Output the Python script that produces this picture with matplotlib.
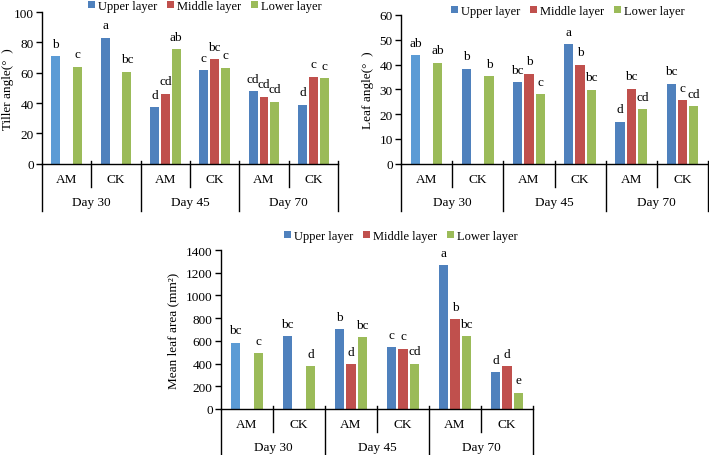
import numpy as np
import matplotlib
matplotlib.use("Agg")
import matplotlib.pyplot as plt
from matplotlib.patches import Patch

plt.rcParams['font.family'] = ['Liberation Serif', 'DejaVu Serif']
plt.rcParams['font.size'] = 9

W, H = 709, 456

categories = ['AM', 'CK', 'AM', 'CK', 'AM', 'CK']
days = ['Day 30', 'Day 45', 'Day 70']
series_names = ['Upper layer', 'Middle layer', 'Lower layer']

nan = np.nan
tiller_upper = [71.0, 83.1, 37.4, 61.8, 47.7, 38.9]
tiller_middle = [nan, nan, 46.2, 68.8, 44.2, 57.4]
tiller_lower = [64.0, 60.7, 75.4, 63.3, 40.9, 56.5]
tiller_letters = [['b', 'a', 'd', 'c', 'cd', 'd'],
                  ['', '', 'cd', 'bc', 'cd', 'c'],
                  ['c', 'bc', 'ab', 'c', 'cd', 'c']]

leaf_upper = [43.8, 38.4, 33.0, 48.2, 17.0, 32.3]
leaf_middle = [nan, nan, 36.3, 40.0, 30.3, 25.7]
leaf_lower = [40.8, 35.2, 28.2, 29.9, 22.0, 23.2]
leaf_letters = [['ab', 'b', 'bc', 'a', 'd', 'bc'],
                ['', '', 'b', 'b', 'bc', 'c'],
                ['ab', 'b', 'c', 'bc', 'cd', 'cd']]

area_upper = [585, 641, 703, 547, 1265, 326]
area_middle = [nan, nan, 397, 532, 791, 379]
area_lower = [491, 379, 635, 400, 644, 144]
area_letters = [['bc', 'bc', 'b', 'c', 'a', 'd'],
                ['', '', 'd', 'c', 'b', 'd'],
                ['c', 'd', 'bc', 'cd', 'bc', 'e']]

colors = ['#4F81BD', '#C0504D', '#9BBB59']
light_blue = '#5B9BD5'

fig = plt.figure(figsize=(W / 100, H / 100), dpi=100)


def add_ax(left, right, top, bottom):
    return fig.add_axes([left / W, 1 - bottom / H, (right - left) / W, (bottom - top) / H])


def panel(ax, upper, middle, lower, letters, ymax, ystep, ylabel, ylab_x, legend_xy):
    x = np.arange(len(categories))
    off = 0.22
    bw = 0.18
    for k, vals in enumerate([upper, middle, lower]):
        vals = np.array(vals, dtype=float)
        cols = [colors[k]] * len(vals)
        if k == 0:
            cols[0] = light_blue
        for i, v in enumerate(vals):
            if np.isnan(v):
                continue
            xi = x[i] + (k - 1) * off
            ax.bar(xi, v, width=bw, color=cols[i], edgecolor='none', zorder=2)
            if letters[k][i]:
                ax.annotate(letters[k][i], (xi, v), xytext=(0, 4.5), textcoords='offset points',
                            ha='center', va='bottom', fontsize=9.5)
    ax.set_xlim(-0.5, len(categories) - 0.5)
    ax.set_ylim(0, ymax)
    ticks = np.arange(0, ymax + 0.1, ystep)
    ax.set_yticks(ticks)
    ax.set_yticklabels([f'{int(t)}' for t in ticks])
    ax.set_xticks([])
    for s in ['top', 'right']:
        ax.spines[s].set_visible(False)
    ax.spines['left'].set_linewidth(1.0)
    ax.spines['bottom'].set_linewidth(1.0)
    ax.tick_params(axis='y', direction='out', length=4, width=1.0, labelsize=9.5, pad=2)
    ax.set_ylabel(ylabel, fontsize=9.5, va='center')
    ax.yaxis.set_label_coords(ylab_x, 0.5)

    # multi-level category axis
    hpx = ax.get_position().height * H
    f = lambda px: -px / hpx
    up = 3 / hpx
    tr = ax.get_xaxis_transform()
    for b in [0.5, 2.5, 4.5]:
        ax.plot([b, b], [up, f(23)], color='black', lw=1.0, clip_on=False, transform=tr)
    for b in [-0.5, 1.5, 3.5, 5.5]:
        ax.plot([b, b], [0 if b == -0.5 else up, f(47)], color='black', lw=1.0,
                clip_on=False, transform=tr)
    for i, c in enumerate(categories):
        ax.text(i, f(15.5), c, ha='center', va='center', fontsize=9.5, transform=tr)
    for j, d in enumerate(days):
        ax.text(2 * j + 0.5, f(38.5), d, ha='center', va='center', fontsize=9.5, transform=tr)

    handles = [Patch(facecolor=c, edgecolor='none') for c in colors]
    fig.legend(handles, series_names, loc='center left',
               bbox_to_anchor=(legend_xy[0] / W, 1 - legend_xy[1] / H),
               ncol=3, frameon=False, fontsize=9, handlelength=0.55, handleheight=0.55,
               handletextpad=0.25, columnspacing=0.8, borderpad=0, borderaxespad=0)


ax1 = add_ax(42, 338, 13, 164.7)
panel(ax1, tiller_upper, tiller_middle, tiller_lower, tiller_letters, 100, 20,
      'Tiller angle(°  )', -0.115, (88, 7))

ax2 = add_ax(401, 708, 16, 164.7)
panel(ax2, leaf_upper, leaf_middle, leaf_lower, leaf_letters, 60, 10,
      'Leaf angle(°  )', -0.108, (451, 12))

ax3 = add_ax(221, 533, 251, 410)
panel(ax3, area_upper, area_middle, area_lower, area_letters, 1400, 200,
      'Mean leaf area (mm²)', -0.152, (284, 237))

fig.savefig('out.png', dpi=100)
